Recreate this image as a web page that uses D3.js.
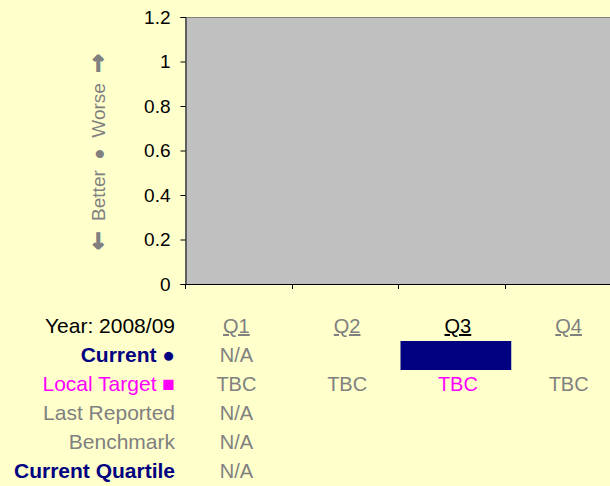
<!DOCTYPE html>
<html>
<head>
<meta charset="utf-8">
<script src="https://cdn.jsdelivr.net/npm/d3@7"></script>
<style>
  body { margin: 0; background: #FFFFCC; }
  svg { display: block; font-family: "Liberation Sans", Arial, sans-serif; }
</style>
</head>
<body>
<div id="graph"></div>
<script>
(function(){
	"use strict";

	// chart data
	var quarters = ["Q1", "Q2", "Q3", "Q4"];
	var currentQuarter = "Q3";
	var yTicks = [0, 0.2, 0.4, 0.6, 0.8, 1, 1.2];
	var yearLabel = "Year: 2008/09";

	// table rows: label and the value shown under each quarter
	var rowLabels = ["Current \u25CF", "Local Target \u25A0", "Last Reported", "Benchmark", "Current Quartile"];
	var currentValues = ["N/A", "", "", ""];
	var targetValues = ["TBC", "TBC", "TBC", "TBC"];
	var lastReportedValues = ["N/A", "", "", ""];
	var benchmarkValues = ["N/A", "", "", ""];
	var quartileValues = ["N/A", "", "", ""];

	var width = 610, height = 486;
	var plot = {left: 185, right: 611, top: 17, bottom: 284};

	var svg = d3.select("#graph").append("svg")
		.attr("width", width)
		.attr("height", height);

	var x = d3.scaleBand().domain(quarters).range([plot.left, plot.right]);
	var y = d3.scaleLinear().domain([0, 1.2]).range([plot.bottom, plot.top]);

	//grey plot area
	svg.append("rect")
		.attr("x", plot.left)
		.attr("y", y(1.2))
		.attr("width", plot.right - plot.left)
		.attr("height", y(0) - y(1.2))
		.attr("fill", "#C0C0C0");

	svg.append("line")
		.attr("x1", plot.left).attr("x2", plot.right)
		.attr("y1", y(1.2) + 0.5).attr("y2", y(1.2) + 0.5)
		.attr("stroke", "#808080");

	//y axis
	var yAxis = svg.append("g")
		.attr("transform", "translate(" + (plot.left + 0.5) + ",0)")
		.call(d3.axisLeft(y).tickValues(yTicks).tickSize(5).tickPadding(10).tickFormat(d3.format("")));
	yAxis.attr("font-family", null);
	yAxis.selectAll("text").attr("font-size", "19px").attr("fill", "#000");
	yAxis.selectAll("line, path").attr("stroke", "#000");

	//x axis: ticks at band boundaries
	var xAxis = svg.append("g");
	xAxis.append("line")
		.attr("x1", plot.left).attr("x2", plot.right)
		.attr("y1", y(0) + 0.5).attr("y2", y(0) + 0.5)
		.attr("stroke", "#000");
	xAxis.selectAll(".tick")
		.data(quarters)
		.enter().append("line")
		.attr("x1", function(d) { return Math.round(x(d)) + 0.5; })
		.attr("x2", function(d) { return Math.round(x(d)) + 0.5; })
		.attr("y1", y(0))
		.attr("y2", y(0) + 5)
		.attr("stroke", "#000");

	//better / worse label
	var nb = "\u00A0";
	var arrow = '<tspan font-weight="bold" font-size="22px" font-family="DejaVu Sans" stroke="#808080" stroke-width="1.4">';
	svg.append("text")
		.attr("transform", "translate(105,152) rotate(-90)")
		.attr("text-anchor", "middle")
		.attr("fill", "#808080")
		.attr("font-size", "19px")
		.html(arrow + '\u2190</tspan>' +
			nb + nb + "Better" + nb + nb + "\u25CF" + nb + nb + "Worse" + nb + nb +
			arrow + '\u2192</tspan>');

	//table under the chart
	var tx = d3.scaleBand().domain(quarters).range([181, 624]);
	var rowY = d3.scaleLinear().domain([0, 1]).range([333, 362]);
	var fs = "21px";

	svg.append("text")
		.attr("x", 175).attr("y", rowY(0))
		.attr("text-anchor", "end")
		.attr("font-size", fs)
		.attr("fill", "#000")
		.text(yearLabel);

	svg.selectAll(".qhead")
		.data(quarters)
		.enter().append("text")
		.attr("class", "qhead")
		.attr("x", function(d) { return tx(d) + tx.bandwidth() / 2; })
		.attr("y", rowY(0))
		.attr("text-anchor", "middle")
		.attr("font-size", "20px")
		.attr("text-decoration", "underline")
		.attr("fill", function(d) { return d === currentQuarter ? "#000" : "#808080"; })
		.text(function(d) { return d; });

	var rowStyles = [
		{color: "#000080", weight: "bold"},
		{color: "#FF00FF", weight: "normal"},
		{color: "#808080", weight: "normal"},
		{color: "#808080", weight: "normal"},
		{color: "#000080", weight: "bold"}
	];
	var rowValues = [currentValues, targetValues, lastReportedValues, benchmarkValues, quartileValues];

	rowLabels.forEach(function(label, i) {
		var ry = rowY(i + 1);
		svg.append("text")
			.attr("x", 175).attr("y", ry)
			.attr("text-anchor", "end")
			.attr("font-size", fs)
			.attr("font-weight", rowStyles[i].weight)
			.attr("fill", rowStyles[i].color)
			.text(label);

		svg.selectAll(".row" + i)
			.data(rowValues[i])
			.enter().append("text")
			.attr("x", function(d, j) { return tx(quarters[j]) + tx.bandwidth() / 2; })
			.attr("y", ry)
			.attr("text-anchor", "middle")
			.attr("font-size", "20px")
			.attr("fill", function(d, j) {
				return (i === 1 && quarters[j] === currentQuarter) ? "#FF00FF" : "#808080";
			})
			.text(function(d) { return d; });
	});

	//navy highlight box for the current quarter
	svg.append("rect")
		.attr("x", tx(currentQuarter) - 2)
		.attr("y", rowY(1) - 21)
		.attr("width", tx.bandwidth())
		.attr("height", 29)
		.attr("fill", "#000080");
})();
</script>
</body>
</html>
